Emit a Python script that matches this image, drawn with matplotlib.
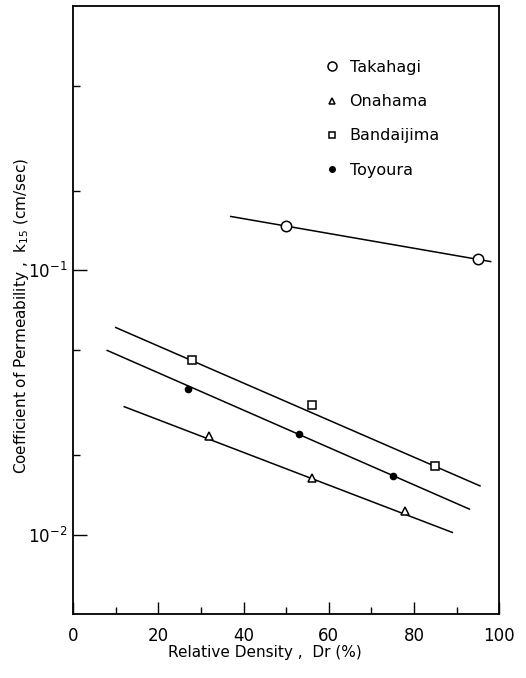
import numpy as np
from matplotlib import pyplot as plt
from matplotlib.ticker import FixedLocator, NullFormatter

plt.rcParams['font.family'] = ['DejaVu Sans']
plt.rcParams['mathtext.default'] = 'regular'

# Measured permeability for each sand, k15 (cm/sec) against relative density Dr (%)
sands = ['Takahagi', 'Onahama', 'Bandaijima', 'Toyoura']

takahagi_dr = [50, 95]
takahagi_k = [0.147, 0.110]

onahama_dr = [32, 56, 78]
onahama_k = [0.0237, 0.0164, 0.0123]

bandaijima_dr = [28, 56, 85]
bandaijima_k = [0.046, 0.031, 0.0182]

toyoura_dr = [27, 53, 75]
toyoura_k = [0.0357, 0.0241, 0.0167]

# Fitted trend lines (end points)
takahagi_fit_dr = [37, 98]
takahagi_fit_k = [0.160, 0.108]
onahama_fit_dr = [12, 89]
onahama_fit_k = [0.0305, 0.0102]
bandaijima_fit_dr = [10, 95.5]
bandaijima_fit_k = [0.0608, 0.0153]
toyoura_fit_dr = [8, 93]
toyoura_fit_k = [0.0498, 0.0125]

x_ticks = [0, 20, 40, 60, 80, 100]
x_minor = [10, 30, 50, 70, 90]
y_ticks = [0.01, 0.1]
y_tick_labels = [r'$10^{-2}$', r'$10^{-1}$']
y_minor = [0.02, 0.05, 0.2, 0.5]

fig = plt.figure(figsize=(5.26, 6.78), dpi=100)
ax = fig.add_axes([0.139, 0.094, 0.810, 0.897])
ax.set_yscale('log')
ax.set_xlim(0, 100)
ax.set_ylim(0.005, 1.0)

# trend lines
for fx, fy in [(takahagi_fit_dr, takahagi_fit_k), (onahama_fit_dr, onahama_fit_k),
               (bandaijima_fit_dr, bandaijima_fit_k), (toyoura_fit_dr, toyoura_fit_k)]:
    ax.plot(fx, fy, color='black', lw=1.1, zorder=2)

# data points
ax.plot(takahagi_dr, takahagi_k, 'o', ms=7.5, mfc='white', mec='black', mew=1.1, ls='none', zorder=3)
ax.plot(onahama_dr, onahama_k, '^', ms=6, mfc='white', mec='black', mew=1.1, ls='none', zorder=3)
ax.plot(bandaijima_dr, bandaijima_k, 's', ms=6, mfc='white', mec='black', mew=1.1, ls='none', zorder=3)
ax.plot(toyoura_dr, toyoura_k, 'o', ms=4.5, mfc='black', mec='black', ls='none', zorder=3)

# legend (markers only)
handles = [
    plt.Line2D([], [], marker='o', ms=6.5, mfc='white', mec='black', mew=1.1, ls='none'),
    plt.Line2D([], [], marker='^', ms=5, mfc='white', mec='black', mew=1.1, ls='none'),
    plt.Line2D([], [], marker='s', ms=5, mfc='white', mec='black', mew=1.1, ls='none'),
    plt.Line2D([], [], marker='o', ms=4, mfc='black', mec='black', ls='none'),
]
ax.legend(handles, sands, loc='upper left', bbox_to_anchor=(0.555, 0.935), frameon=False,
          fontsize=11.5, handlelength=1.0, handletextpad=0.6, labelspacing=1.2)

# ticks
ax.xaxis.set_major_locator(FixedLocator(x_ticks))
ax.xaxis.set_minor_locator(FixedLocator(x_minor))
ax.set_xticklabels([str(t) for t in x_ticks])
ax.yaxis.set_major_locator(FixedLocator(y_ticks))
ax.yaxis.set_minor_locator(FixedLocator(y_minor))
ax.set_yticklabels(y_tick_labels)
ax.yaxis.set_minor_formatter(NullFormatter())

ax.tick_params(which='both', direction='in', top=False, right=False, width=1.0,
               labelsize=12, colors='black')
ax.tick_params(axis='x', which='major', length=9, pad=9)
ax.tick_params(axis='x', which='minor', length=5)
ax.tick_params(axis='y', which='major', length=10, pad=4)
ax.tick_params(axis='y', which='minor', length=5)

for s in ax.spines.values():
    s.set_linewidth(1.3)

ax.set_xlabel('Relative Density ,  Dr (%)', fontsize=11, labelpad=8)
ax.xaxis.set_label_coords(0.45, -0.05)
ax.set_ylabel(r'Coefficient of Permeability ,  k$_{15}$ (cm/sec)', fontsize=11, labelpad=10)
ax.yaxis.set_label_coords(-0.10, 0.49)

fig.savefig('out.png', dpi=100)
